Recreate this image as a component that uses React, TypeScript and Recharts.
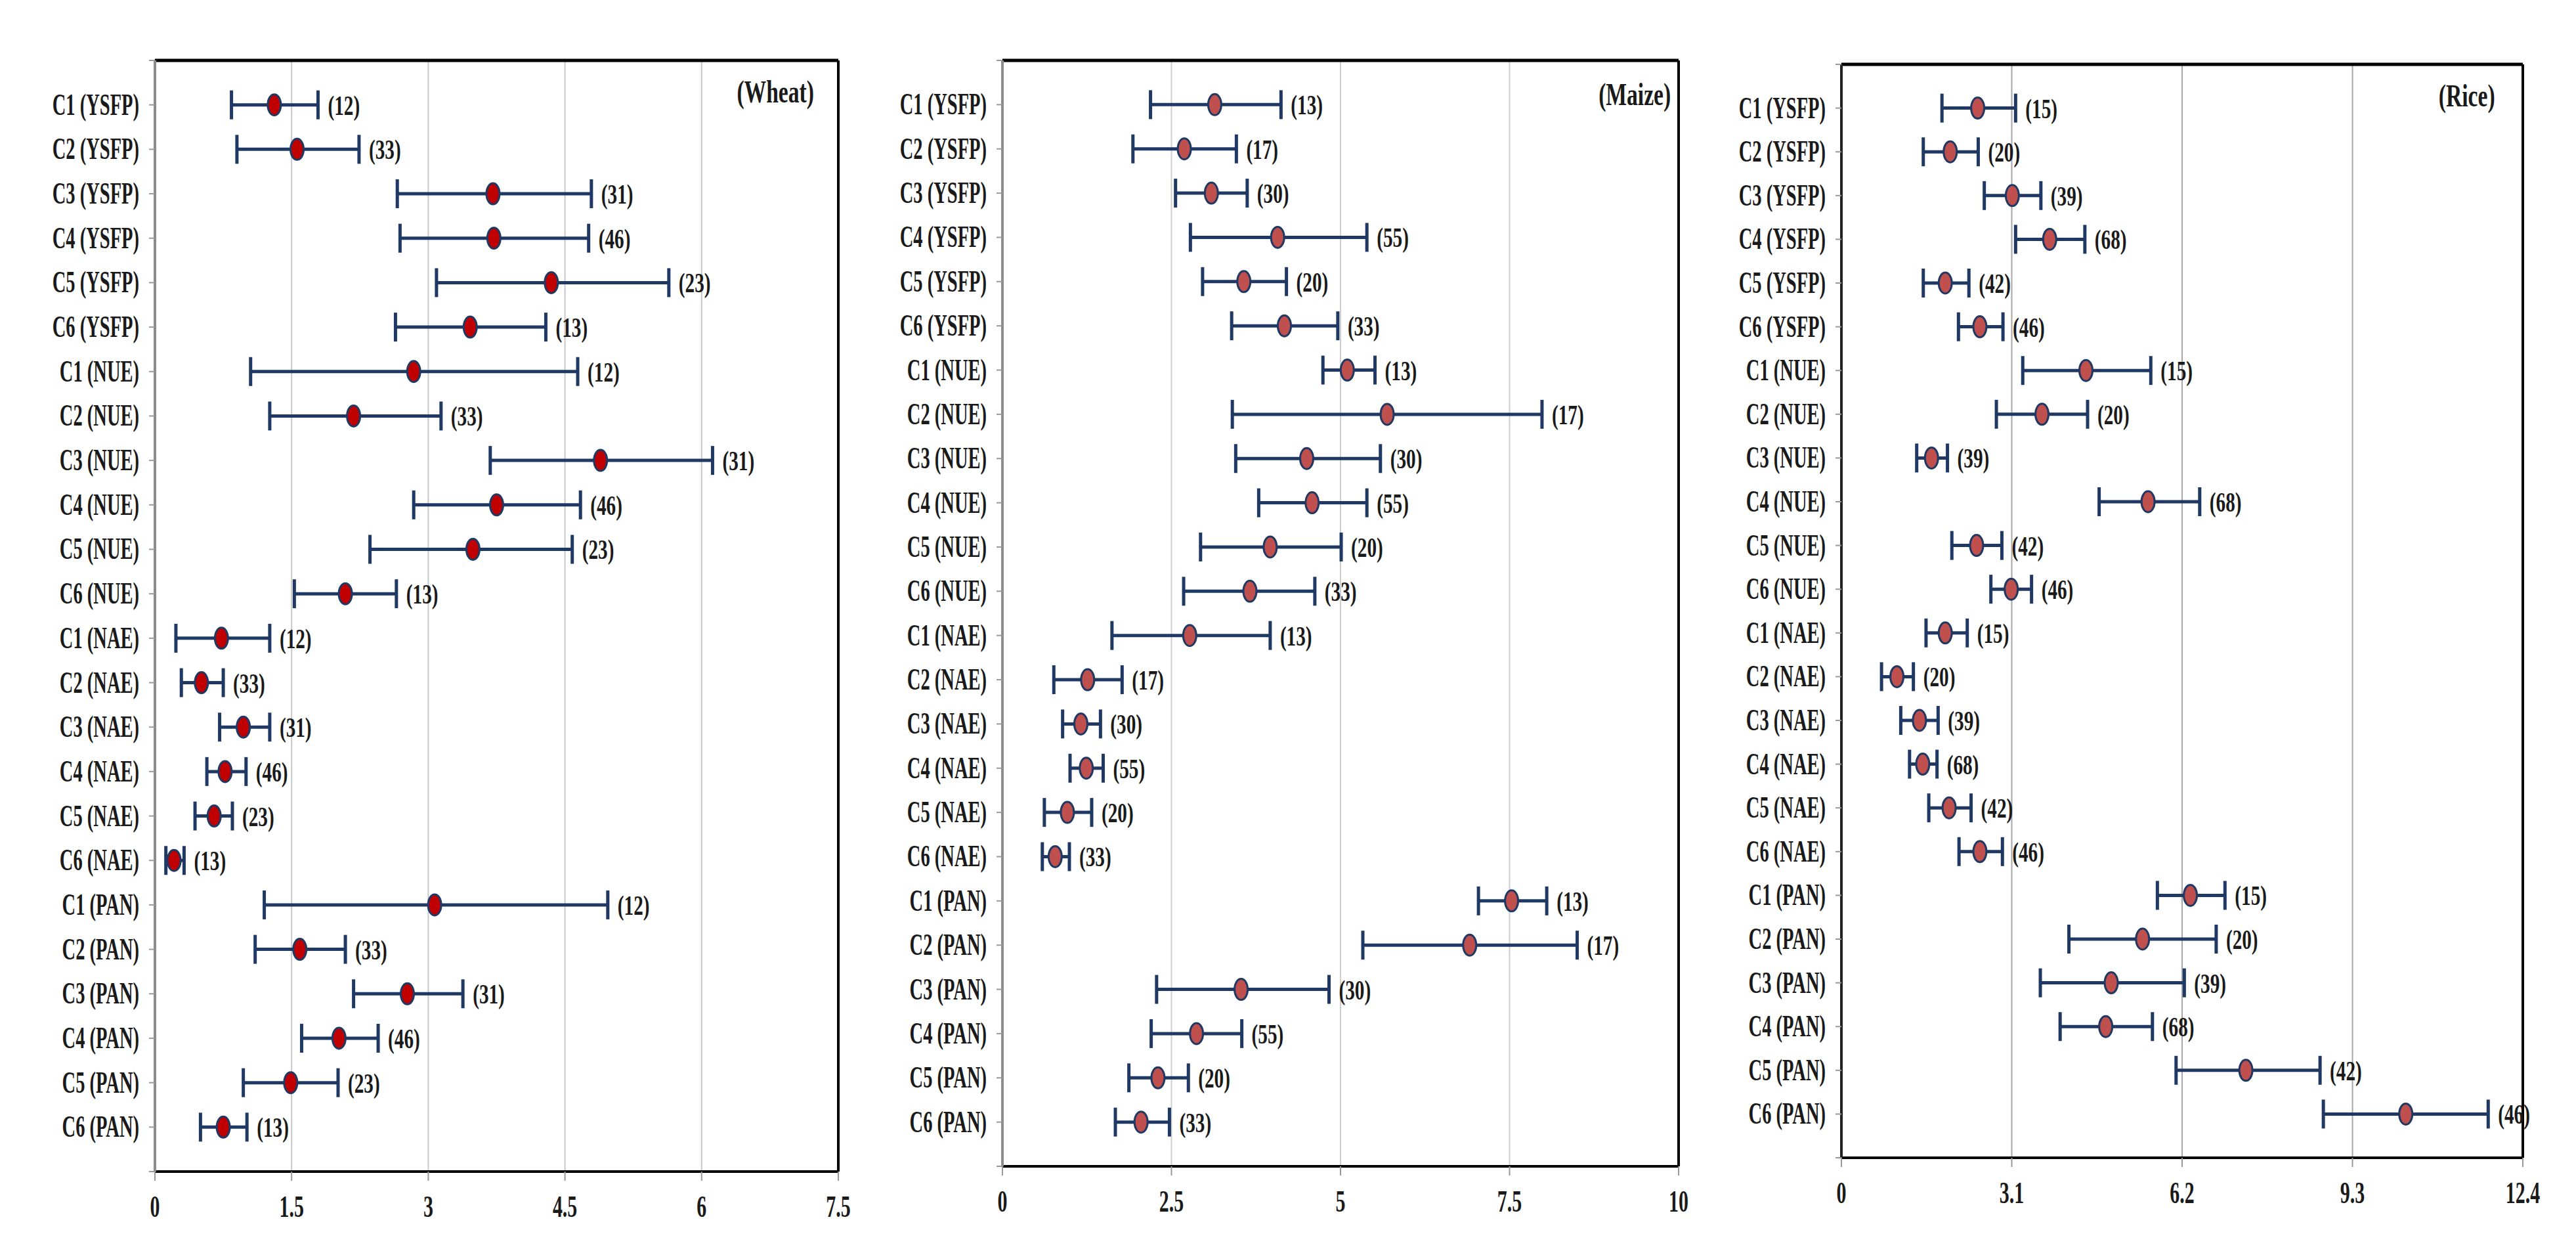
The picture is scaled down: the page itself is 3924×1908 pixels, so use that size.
import React from 'react';
import { ScatterChart, Scatter, XAxis, YAxis, CartesianGrid, ErrorBar, ReferenceLine } from 'recharts';

const FONT = '"Liberation Serif", "Times New Roman", serif';

const CATEGORIES = [
  'C1 (YSFP)', 'C2 (YSFP)', 'C3 (YSFP)', 'C4 (YSFP)', 'C5 (YSFP)', 'C6 (YSFP)',
  'C1 (NUE)', 'C2 (NUE)', 'C3 (NUE)', 'C4 (NUE)', 'C5 (NUE)', 'C6 (NUE)',
  'C1 (NAE)', 'C2 (NAE)', 'C3 (NAE)', 'C4 (NAE)', 'C5 (NAE)', 'C6 (NAE)',
  'C1 (PAN)', 'C2 (PAN)', 'C3 (PAN)', 'C4 (PAN)', 'C5 (PAN)', 'C6 (PAN)',
];

// wheat
const WHEAT_MEAN = [1.31, 1.56, 3.71, 3.72, 4.35, 3.46, 2.84, 2.18, 4.89, 3.75, 3.49, 2.09, 0.73, 0.51, 0.97, 0.77, 0.65, 0.21, 3.07, 1.59, 2.77, 2.02, 1.49, 0.75];
const WHEAT_LOW = [0.84, 0.9, 2.66, 2.69, 3.09, 2.64, 1.05, 1.26, 3.68, 2.84, 2.36, 1.53, 0.23, 0.29, 0.71, 0.57, 0.44, 0.12, 1.2, 1.1, 2.18, 1.61, 0.97, 0.5];
const WHEAT_HIGH = [1.79, 2.24, 4.79, 4.76, 5.64, 4.29, 4.64, 3.14, 6.12, 4.67, 4.58, 2.65, 1.26, 0.75, 1.26, 1.0, 0.85, 0.32, 4.97, 2.09, 3.38, 2.45, 2.01, 1.01];
const WHEAT_N = [12, 33, 31, 46, 23, 13, 12, 33, 31, 46, 23, 13, 12, 33, 31, 46, 23, 13, 12, 33, 31, 46, 23, 13];
const WHEAT_TICKS = [0, 1.5, 3, 4.5, 6, 7.5];

// maize
const MAIZE_MEAN = [3.14, 2.69, 3.09, 4.07, 3.57, 4.17, 5.1, 5.69, 4.5, 4.58, 3.96, 3.66, 2.77, 1.26, 1.16, 1.24, 0.96, 0.78, 7.53, 6.91, 3.53, 2.87, 2.3, 2.05];
const MAIZE_LOW = [2.19, 1.93, 2.56, 2.78, 2.96, 3.39, 4.74, 3.4, 3.45, 3.79, 2.93, 2.68, 1.62, 0.76, 0.89, 1.0, 0.62, 0.59, 7.04, 5.33, 2.28, 2.2, 1.87, 1.67];
const MAIZE_HIGH = [4.12, 3.46, 3.62, 5.39, 4.2, 4.96, 5.51, 7.98, 5.59, 5.39, 5.01, 4.62, 3.96, 1.77, 1.45, 1.49, 1.32, 0.99, 8.05, 8.5, 4.83, 3.54, 2.75, 2.47];
const MAIZE_N = [13, 17, 30, 55, 20, 33, 13, 17, 30, 55, 20, 33, 13, 17, 30, 55, 20, 33, 13, 17, 30, 55, 20, 33];
const MAIZE_TICKS = [0, 2.5, 5, 7.5, 10];

// rice
const RICE_MEAN = [2.48, 1.98, 3.11, 3.79, 1.89, 2.52, 4.45, 3.65, 1.64, 5.58, 2.46, 3.09, 1.89, 1.01, 1.42, 1.48, 1.96, 2.52, 6.35, 5.48, 4.91, 4.81, 7.36, 10.27];
const RICE_LOW = [1.83, 1.49, 2.6, 3.17, 1.49, 2.13, 3.3, 2.82, 1.37, 4.69, 2.01, 2.72, 1.54, 0.73, 1.08, 1.24, 1.59, 2.14, 5.75, 4.14, 3.62, 3.98, 6.09, 8.77];
const RICE_HIGH = [3.17, 2.49, 3.63, 4.43, 2.32, 2.94, 5.63, 4.48, 1.93, 6.52, 2.92, 3.46, 2.29, 1.31, 1.76, 1.74, 2.36, 2.93, 6.98, 6.82, 6.24, 5.66, 8.71, 11.77];
const RICE_N = [15, 20, 39, 68, 42, 46, 15, 20, 39, 68, 42, 46, 15, 20, 39, 68, 42, 46, 15, 20, 39, 68, 42, 46];
const RICE_TICKS = [0, 3.1, 6.2, 9.3, 12.4];

const ROW_TICKS = Array.from({ length: 26 }, (_, i) => i);
const BAR_COLOR = '#1f3864';

const buildRows = (mean: number[], low: number[], high: number[]) =>
  mean.map((m, i) => ({ y: i + 1, x: m, err: [m - low[i], high[i] - m] }));

const buildLabels = (high: number[], n: number[]) =>
  high.map((h, i) => ({ y: i + 1, x: h, n: n[i] }));

const CategoryTick = ({ x, y, payload }: any) => {
  const label = CATEGORIES[payload.value - 1];
  if (!label) return null;
  return (
    <g transform={`translate(${x},${y})`}>
      <text transform="scale(0.62,1)" textAnchor="end" y={15} fontSize={46} fontWeight="bold" fontFamily={FONT} fill="#1a1a1a">
        {label}
      </text>
    </g>
  );
};

const ValueTick = ({ x, y, payload }: any) => (
  <g transform={`translate(${x},${y})`}>
    <text transform="scale(0.65,1)" textAnchor="middle" y={53} fontSize={46} fontWeight="bold" fontFamily={FONT} fill="#1a1a1a">
      {payload.value}
    </text>
  </g>
);

const CountLabel = (props: any) => {
  const { cx, cy } = props;
  const n = props.payload?.n ?? props.n;
  return (
    <g transform={`translate(${cx + 15},${cy + 15})`}>
      <text transform="scale(0.68,1)" fontSize={43} fontWeight="bold" fontFamily={FONT} fill="#1a1a1a">
        ({n})
      </text>
    </g>
  );
};

interface PanelProps {
  title: string;
  rows: any[];
  labels: any[];
  ticks: number[];
  left: number;
  width: number;
  yAxisWidth: number;
  margin: { top: number; right: number; bottom: number; left: number };
  markerFill: string;
  gridColor: string;
  leftAxisColor: string;
  titleRight: number;
  titleTop: number;
}

const Panel = (p: PanelProps) => {
  const xMax = p.ticks[p.ticks.length - 1];
  const Marker = ({ cx, cy }: any) => (
    <ellipse cx={cx} cy={cy} rx={10} ry={16} fill={p.markerFill} stroke="#1f3864" strokeWidth={3} />
  );
  return (
    <div style={{ position: 'absolute', left: p.left, top: 0, width: p.width, height: 1908 }}>
      <ScatterChart width={p.width} height={1908} margin={p.margin}>
        <CartesianGrid horizontal={false} stroke={p.gridColor} strokeWidth={2} />
        <XAxis
          type="number"
          dataKey="x"
          domain={[0, xMax]}
          ticks={p.ticks}
          interval={0}
          height={60}
          tickSize={14}
          tickMargin={2}
          axisLine={{ stroke: '#000', strokeWidth: 4 }}
          tickLine={{ stroke: '#999', strokeWidth: 2 }}
          tick={<ValueTick />}
        />
        <YAxis
          type="number"
          dataKey="y"
          domain={[0, 25]}
          reversed
          ticks={ROW_TICKS}
          interval={0}
          width={p.yAxisWidth}
          tickSize={9}
          tickMargin={15}
          axisLine={{ stroke: p.leftAxisColor, strokeWidth: 4 }}
          tickLine={{ stroke: '#999', strokeWidth: 2 }}
          tick={<CategoryTick />}
        />
        <ReferenceLine y={0} stroke="#000" strokeWidth={5} />
        <ReferenceLine x={xMax} stroke="#000" strokeWidth={4} />
        <Scatter data={p.rows} shape={<Marker />} isAnimationActive={false}>
          <ErrorBar dataKey="err" direction="x" width={22} stroke={BAR_COLOR} strokeWidth={5} isAnimationActive={false} />
        </Scatter>
        <Scatter data={p.labels} shape={<CountLabel />} isAnimationActive={false} />
      </ScatterChart>
      <div
        style={{
          position: 'absolute',
          right: p.titleRight,
          top: p.titleTop,
          fontFamily: FONT,
          fontWeight: 'bold',
          fontSize: 48,
          lineHeight: 1,
          color: '#1a1a1a',
          whiteSpace: 'nowrap',
          transform: 'scaleX(0.7)',
          transformOrigin: 'right top',
        }}
      >
        {p.title}
      </div>
    </div>
  );
};

export default function App() {
  return (
    <div style={{ position: 'absolute', left: 0, top: 0, width: 3924, height: 1908, background: '#fff' }}>
      <Panel
        title="(Wheat)"
        rows={buildRows(WHEAT_MEAN, WHEAT_LOW, WHEAT_HIGH)}
        labels={buildLabels(WHEAT_HIGH, WHEAT_N)}
        ticks={WHEAT_TICKS}
        left={0}
        width={1300}
        yAxisWidth={236}
        margin={{ top: 92, right: 23, bottom: 64, left: 0 }}
        markerFill="#c00000"
        gridColor="#c8c8c8"
        leftAxisColor="#8c8c8c"
        titleRight={60}
        titleTop={116}
      />
      <Panel
        title="(Maize)"
        rows={buildRows(MAIZE_MEAN, MAIZE_LOW, MAIZE_HIGH)}
        labels={buildLabels(MAIZE_HIGH, MAIZE_N)}
        ticks={MAIZE_TICKS}
        left={1290}
        width={1290}
        yAxisWidth={237}
        margin={{ top: 92, right: 23, bottom: 72, left: 0 }}
        markerFill="#c0504d"
        gridColor="#cfcfcf"
        leftAxisColor="#8c8c8c"
        titleRight={35}
        titleTop={120}
      />
      <Panel
        title="(Rice)"
        rows={buildRows(RICE_MEAN, RICE_LOW, RICE_HIGH)}
        labels={buildLabels(RICE_HIGH, RICE_N)}
        ticks={RICE_TICKS}
        left={2580}
        width={1344}
        yAxisWidth={225}
        margin={{ top: 98, right: 81, bottom: 85, left: 0 }}
        markerFill="#c0504d"
        gridColor="#a6a6a6"
        leftAxisColor="#222"
        titleRight={123}
        titleTop={122}
      />
    </div>
  );
}
